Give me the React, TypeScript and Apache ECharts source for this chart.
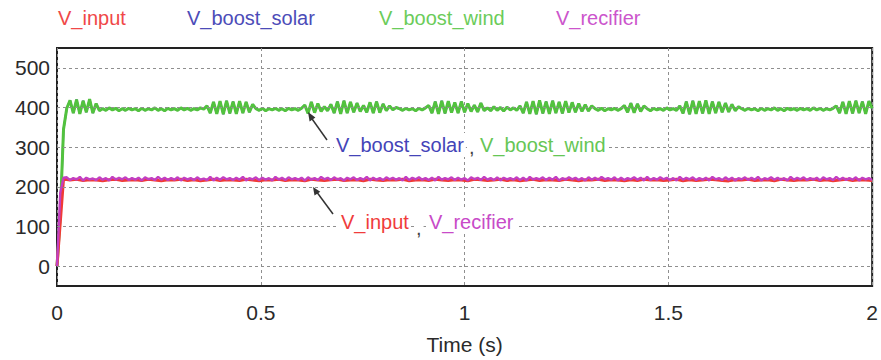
import React, { useEffect, useRef } from "react";
import * as echarts from "echarts";

// ---- data ----
const DT_FINE = 0.008; // sampling step (s) of V_boost_wind / V_recifier
const DT_INPUT = 0.016; // sampling step (s) of V_input

const X_TICKS = [0, 0.5, 1, 1.5, 2];
const Y_TICKS = [0, 100, 200, 300, 400, 500];

const V_BOOST_WIND = [
  0, 130, 345,
  398, 418, 386, 420, 384, 417, 388, 421, 386, 410, 392,
  397, 393, 399, 394, 398, 392, 397, 393, 398, 394, 397, 392, 398, 393, 397, 394,
  399, 393, 397, 392, 398, 394, 397, 393, 399, 394, 398, 393, 397, 394, 399, 396,
  404, 386, 414, 384, 416, 383, 417, 385, 415, 384, 416, 386, 414, 388, 408,
  397, 393, 398, 392, 397, 394, 398, 393, 397, 392, 398, 394, 397, 393, 398,
  406, 385, 414, 387, 410, 390, 402, 392, 408, 386, 415, 384, 417, 386, 414,
  388, 411, 390, 405, 388, 413, 386, 415, 387, 409, 392, 404, 394, 400,
  397, 393, 398, 394, 397, 392, 398, 394, 399,
  405, 386, 415, 384, 417, 385, 416, 387, 413, 386, 415, 388, 410, 390, 406, 389, 411, 392,
  399, 392, 402, 393, 400, 391, 401, 394, 399, 393,
  404, 386, 414, 384, 416, 383, 418, 385, 415, 384, 417, 386, 414, 385, 416, 387,
  413, 388, 410, 390, 407, 391, 404,
  397, 393, 398, 392, 397, 394, 398, 393, 397,
  405, 388, 411, 387, 409, 390, 404,
  397, 392, 398, 394, 397, 393, 399, 394, 397, 393,
  404, 385, 415, 383, 417, 384, 416, 385, 418, 384, 415, 386, 414, 388, 411, 389, 408, 392, 402,
  397, 393, 398, 394, 397, 392, 398, 393, 397, 394, 399, 393, 397, 392, 398, 394,
  397, 393, 398, 394, 397, 393, 399, 394, 398, 393, 397, 394, 398,
  404, 386, 414, 384, 416, 385, 417, 386, 415, 384, 416, 398,
];

// V_boost_solar lies exactly under V_boost_wind in the reference (annotated together)
const V_BOOST_SOLAR = V_BOOST_WIND;

const V_RECIFIER = [
  0, 185, 223,
  224, 217, 222, 218, 225, 216, 223, 219, 221, 217, 224, 218, 222, 216, 225, 218,
  223, 219, 224, 217, 222, 218, 223, 216, 224, 219, 222, 217, 225, 218, 223, 217,
  222, 218, 224, 216, 223, 219, 222, 217, 224, 218, 221, 217, 225, 216, 223, 218,
  224, 219, 222, 217, 223, 218, 225, 216, 222, 219, 224, 217, 223, 218, 222, 216,
  225, 218, 223, 217, 224, 219, 222, 218, 223, 216, 224, 218, 222, 217, 225, 219,
  223, 217, 224, 218, 222, 216, 223, 219, 224, 217, 222, 218, 225, 216, 223, 218,
  222, 217, 224, 219, 223, 218, 222, 216, 225, 217, 223, 219, 224, 218, 222, 217,
  223, 216, 225, 218, 222, 219, 224, 217, 223, 218, 222, 216, 224, 219, 223, 217,
  225, 218, 222, 217, 224, 216, 223, 219, 222, 218, 224, 217, 223, 216, 225, 218,
  222, 219, 224, 217, 223, 218, 225, 216, 222, 218, 224, 219, 223, 217, 222, 216,
  224, 218, 223, 217, 225, 219, 222, 218, 224, 216, 223, 217, 222, 219, 224, 218,
  223, 216, 225, 217, 222, 218, 224, 219, 223, 217, 222, 216, 225, 218, 223, 219,
  224, 217, 222, 218, 223, 216, 225, 219, 222, 217, 224, 218, 223, 216, 222, 219,
  224, 217, 223, 218, 225, 216, 222, 219, 224, 218, 223, 217, 222, 216, 225, 218,
  223, 219, 224, 217, 222, 218, 223, 216, 224, 219, 222, 217, 225, 218, 223, 217,
  222, 218, 224, 216, 223, 219, 222, 217,
];

const V_INPUT = [
  0, 220,
  217, 219, 216, 218, 217, 215, 218, 219, 216, 217, 218, 216, 219, 217, 215, 218,
  217, 219, 216, 218, 215, 217, 219, 216, 218, 217, 216, 219, 217, 215, 218, 217,
  219, 216, 218, 217, 215, 219, 217, 216, 218, 219, 216, 217, 218, 215, 219, 217,
  216, 218, 217, 219, 215, 217, 218, 216, 219, 217, 216, 218, 217, 215, 219, 218,
  216, 217, 219, 216, 218, 215, 217, 219, 216, 218, 217, 216, 219, 217, 215, 218,
  217, 219, 216, 218, 217, 215, 218, 216, 219, 217, 218, 216, 217, 219, 215, 218,
  216, 217, 219, 218, 216, 215, 218, 217, 219, 216, 217, 218, 215, 219, 217, 216,
  218, 217, 219, 216, 218, 215, 217, 219, 216, 218, 217, 216,
];

const SERIES_NAMES = ["V_input", "V_boost_solar", "V_boost_wind", "V_recifier"];
const LINE_COLORS = ["#f03a36", "#4a4ab8", "#52c23e", "#c23fc2"];
const LEGEND_COLORS = ["#f04848", "#4c4cb8", "#6bcc5a", "#cc55cc"];

const FONT = "'Liberation Sans', Arial, sans-serif";

function toPairs(values: number[], dt: number) {
  return values.map((v, i) => [Math.min(i * dt, 2), v]);
}

export default function App() {
  const ref = useRef<HTMLDivElement>(null);

  useEffect(() => {
    if (!ref.current) return;
    const chart = echarts.init(ref.current, undefined, { renderer: "svg" });

    const legendLeft = [52, 181, 373, 550];
    const legends = SERIES_NAMES.map((name, i) => ({
      left: legendLeft[i],
      top: 6,
      itemWidth: 0,
      itemHeight: 0,
      itemGap: 0,
      padding: 0,
      data: [{ name, textStyle: { color: LEGEND_COLORS[i] } }],
      textStyle: { fontSize: 20, fontFamily: FONT, lineHeight: 24 },
    }));

    const lineCommon = {
      type: "line",
      showSymbol: false,
      symbol: "none",
      silent: true,
    };

    const option: any = {
      animation: false,
      backgroundColor: "#ffffff",
      textStyle: { fontFamily: FONT },
      legend: legends,
      grid: {
        left: 57,
        right: 5,
        top: 48,
        bottom: 70,
        show: true,
        borderColor: "#222",
        borderWidth: 2,
        backgroundColor: "#fff",
      },
      xAxis: {
        type: "value",
        min: X_TICKS[0],
        max: X_TICKS[X_TICKS.length - 1],
        interval: 0.5,
        axisLine: { show: false },
        axisTick: { show: false },
        splitLine: { show: true, lineStyle: { color: "#8f8f8f", type: [3, 3], width: 1 } },
        axisLabel: { fontSize: 21, color: "#2a2a2a", margin: 16, fontFamily: FONT },
        name: "Time (s)",
        nameLocation: "middle",
        nameGap: 48,
        nameTextStyle: { fontSize: 21, color: "#2a2a2a", fontFamily: FONT },
      },
      yAxis: {
        type: "value",
        min: -50,
        max: 550,
        interval: 50,
        axisLine: { show: false },
        axisTick: { show: false },
        splitLine: { show: false },
        axisLabel: {
          fontSize: 21,
          color: "#2a2a2a",
          margin: 7,
          fontFamily: FONT,
          formatter: (v: number) => (Y_TICKS.includes(v) ? String(v) : ""),
        },
      },
      series: [
        {
          ...lineCommon,
          name: "V_boost_solar",
          z: 2,
          data: toPairs(V_BOOST_SOLAR, DT_FINE),
          lineStyle: { color: LINE_COLORS[1], width: 2 },
          itemStyle: { color: LINE_COLORS[1] },
          markLine: {
            silent: true,
            symbol: ["none", "none"],
            label: { show: false },
            lineStyle: { color: "#8f8f8f", type: [3, 3], width: 1 },
            data: Y_TICKS.map((y) => ({ yAxis: y })),
          },
        },
        {
          ...lineCommon,
          name: "V_boost_wind",
          z: 3,
          data: toPairs(V_BOOST_WIND, DT_FINE),
          lineStyle: { color: LINE_COLORS[2], width: 3 },
          itemStyle: { color: LINE_COLORS[2] },
        },
        {
          ...lineCommon,
          name: "V_input",
          z: 3,
          data: toPairs(V_INPUT, DT_INPUT),
          lineStyle: { color: LINE_COLORS[0], width: 3 },
          itemStyle: { color: LINE_COLORS[0] },
        },
        {
          ...lineCommon,
          name: "V_recifier",
          z: 4,
          data: toPairs(V_RECIFIER, DT_FINE),
          lineStyle: { color: LINE_COLORS[3], width: 2.4 },
          itemStyle: { color: LINE_COLORS[3] },
        },
      ],
      graphic: [
        // arrow to upper curve
        { type: "line", z: 100, shape: { x1: 327, y1: 140, x2: 310, y2: 116 }, style: { stroke: "#333", lineWidth: 1.5 } },
        { type: "polygon", z: 100, shape: { points: [[308, 112], [315.4, 117.6], [309.6, 121.6]] }, style: { fill: "#333" } },
        { type: "text", z: 101, x: 334, y: 145, style: { text: "V_boost_solar", fill: "#4444b8", font: `20px ${FONT}`, verticalAlign: "middle", backgroundColor: "#fff", padding: [2, 2] } },
        { type: "text", z: 101, x: 467, y: 147, style: { text: ",", fill: "#444", font: `20px ${FONT}`, verticalAlign: "middle", backgroundColor: "#fff", padding: [2, 2] } },
        { type: "text", z: 101, x: 477, y: 145, style: { text: "V_boost_wind", fill: "#66c655", font: `20px ${FONT}`, verticalAlign: "middle", backgroundColor: "#fff", padding: [2, 3] } },
        // arrow to lower curve
        { type: "line", z: 100, shape: { x1: 333, y1: 214, x2: 316, y2: 191 }, style: { stroke: "#333", lineWidth: 1.5 } },
        { type: "polygon", z: 100, shape: { points: [[313, 187], [320.3, 191.8], [314.5, 195.6]] }, style: { fill: "#333" } },
        { type: "text", z: 101, x: 339, y: 222, style: { text: "V_input", fill: "#f03c3c", font: `20px ${FONT}`, verticalAlign: "middle", backgroundColor: "#fff", padding: [2, 2] } },
        { type: "text", z: 101, x: 414, y: 228, style: { text: ",", fill: "#444", font: `20px ${FONT}`, verticalAlign: "middle", backgroundColor: "#fff", padding: [2, 2] } },
        { type: "text", z: 101, x: 426, y: 222, style: { text: "V_recifier", fill: "#c84ac8", font: `20px ${FONT}`, verticalAlign: "middle", backgroundColor: "#fff", padding: [2, 3] } },
      ],
    };

    chart.setOption(option);
    return () => chart.dispose();
  }, []);

  return <div ref={ref} style={{ width: 881, height: 360, position: "absolute", left: 0, top: 0 }} />;
}
